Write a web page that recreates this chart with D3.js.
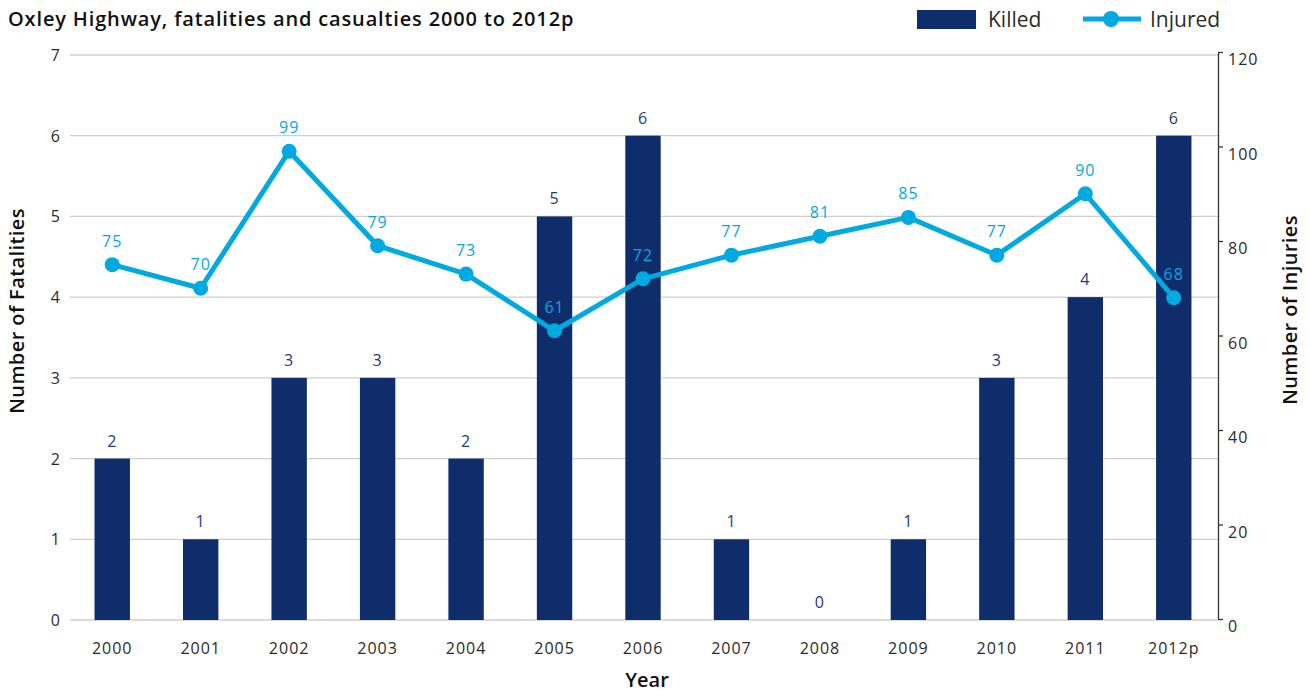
<!DOCTYPE html>
<html>
<head>
<meta charset="utf-8">
<script src="https://cdn.jsdelivr.net/npm/d3@7"></script>
<style>
  body { margin: 0; background: #fff; }
  svg { display: block; font-family: "Open Sans", Lato, sans-serif; }
</style>
</head>
<body>
<svg id="chart" width="1309" height="692"></svg>
<script>
// Oxley Highway road toll, 2000 to 2012 (2012 preliminary)
const years = ["2000", "2001", "2002", "2003", "2004", "2005", "2006", "2007", "2008", "2009", "2010", "2011", "2012p"];
const killed = [2, 1, 3, 3, 2, 5, 6, 1, 0, 1, 3, 4, 6];
const injured = [75, 70, 99, 79, 73, 61, 72, 77, 81, 85, 77, 90, 68];
const fatalityTicks = [0, 1, 2, 3, 4, 5, 6, 7];
const injuryTicks = [0, 20, 40, 60, 80, 100, 120];

const navy = "#0f2d6b";
const cyan = "#00a9e0";
const textCol = "#2b2b2b";
const numSpacing = "1px";

const svg = d3.select("#chart");

const x = d3.scaleBand().domain(years).range([68, 1218]).paddingInner(0.6).paddingOuter(0.3);
const yL = d3.scaleLinear().domain([0, 7]).range([620, 55]);
const yR = d3.scaleLinear().domain([0, 120]).range([619, 52]);

// Horizontal gridlines with left axis labels
const grid = svg.append("g");
grid.selectAll("line").data(fatalityTicks).join("line")
  .attr("x1", 70).attr("x2", 1218)
  .attr("y1", d => yL(d)).attr("y2", d => yL(d))
  .attr("stroke", "#cfcfcf").attr("stroke-width", 1.3);
grid.selectAll("text").data(fatalityTicks).join("text")
  .attr("x", 60).attr("y", d => yL(d) + 6)
  .attr("text-anchor", "end").attr("font-size", 16).attr("fill", textCol)
  .text(d => d);

// Bars: fatalities
const cx = d => x(d) + x.bandwidth() / 2;
svg.append("g").selectAll("rect").data(years).join("rect")
  .attr("x", d => x(d))
  .attr("width", x.bandwidth())
  .attr("y", (d, i) => yL(killed[i]))
  .attr("height", (d, i) => yL(0) - yL(killed[i]))
  .attr("fill", navy);

svg.append("g").selectAll("text").data(years).join("text")
  .attr("x", d => cx(d))
  .attr("y", (d, i) => yL(killed[i]) - 12)
  .attr("text-anchor", "middle").attr("font-size", 16).attr("fill", "#1e3a7b")
  .attr("letter-spacing", numSpacing)
  .text((d, i) => killed[i]);

// Line: injuries
const line = d3.line().x(d => cx(d)).y((d, i) => yR(injured[i]));
svg.append("path").datum(years)
  .attr("d", line)
  .attr("fill", "none").attr("stroke", cyan).attr("stroke-width", 5)
  .attr("stroke-linejoin", "round");
svg.append("g").selectAll("circle").data(years).join("circle")
  .attr("cx", d => cx(d)).attr("cy", (d, i) => yR(injured[i]))
  .attr("r", 7.5).attr("fill", cyan);
svg.append("g").selectAll("text").data(years).join("text")
  .attr("x", d => cx(d))
  .attr("y", (d, i) => yR(injured[i]) - 18)
  .attr("text-anchor", "middle").attr("font-size", 16).attr("fill", cyan)
  .attr("letter-spacing", numSpacing)
  .text((d, i) => injured[i]);

// Right axis: injuries
const rAxis = svg.append("g")
  .attr("transform", "translate(1218,0)")
  .call(d3.axisRight(yR).tickValues(injuryTicks).tickSize(5).tickPadding(5).tickSizeOuter(0));
rAxis.select(".domain").attr("stroke", "#333").attr("stroke-width", 1.3);
rAxis.selectAll(".tick line").attr("stroke", "#333").attr("stroke-width", 1.3);
rAxis.selectAll(".tick text").attr("font-size", 16).attr("fill", textCol)
  .attr("font-family", "'Open Sans', Lato, sans-serif")
  .attr("letter-spacing", numSpacing)
  .attr("dy", "0.8em");

// Year labels
svg.append("g").selectAll("text").data(years).join("text")
  .attr("x", d => cx(d)).attr("y", 654)
  .attr("text-anchor", "middle").attr("font-size", 16).attr("fill", textCol)
  .attr("letter-spacing", numSpacing)
  .text(d => d);

// Titles
svg.append("text").attr("x", 8).attr("y", 26)
  .attr("font-size", 20).attr("font-weight", 600).attr("fill", "#111")
  .attr("letter-spacing", "0.85px")
  .text("Oxley Highway, fatalities and casualties 2000 to 2012p");

svg.append("text").attr("transform", "translate(24,311) rotate(-90)")
  .attr("text-anchor", "middle").attr("font-size", 20).attr("font-weight", 600).attr("fill", "#111")
  .attr("letter-spacing", "0.4px")
  .text("Number of Fatalities");
svg.append("text").attr("transform", "translate(1297,310) rotate(-90)")
  .attr("text-anchor", "middle").attr("font-size", 20).attr("font-weight", 600).attr("fill", "#111")
  .attr("letter-spacing", "0.4px")
  .text("Number of Injuries");
svg.append("text").attr("x", 647).attr("y", 687)
  .attr("text-anchor", "middle").attr("font-size", 20).attr("font-weight", 600).attr("fill", "#111")
  .text("Year");

// Legend
const lg = svg.append("g");
lg.append("rect").attr("x", 917).attr("y", 10).attr("width", 59).attr("height", 19).attr("fill", navy);
lg.append("text").attr("x", 988).attr("y", 27).attr("font-size", 21).attr("fill", textCol).text("Killed");
lg.append("line").attr("x1", 1083).attr("x2", 1141).attr("y1", 19).attr("y2", 19)
  .attr("stroke", cyan).attr("stroke-width", 5);
lg.append("circle").attr("cx", 1111).attr("cy", 19).attr("r", 8).attr("fill", cyan);
lg.append("text").attr("x", 1150).attr("y", 27).attr("font-size", 21).attr("fill", textCol).text("Injured");
</script>
</body>
</html>
